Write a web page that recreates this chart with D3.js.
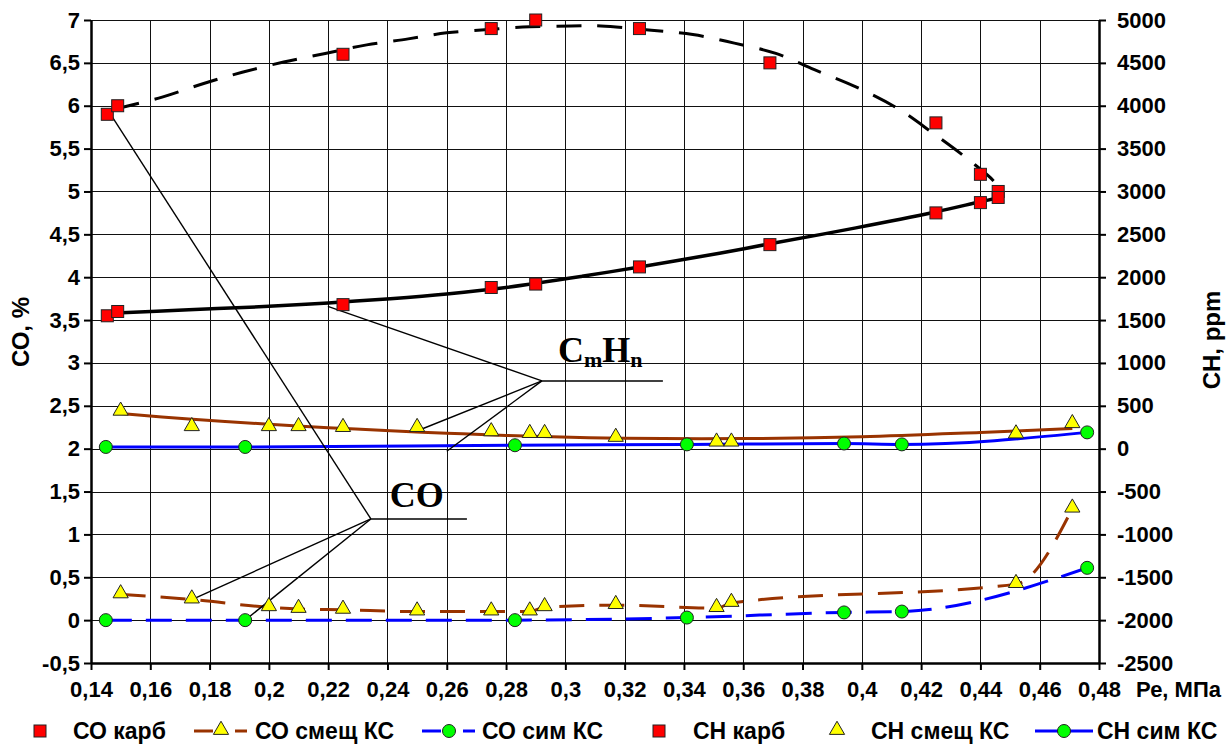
<!DOCTYPE html>
<html>
<head>
<meta charset="utf-8">
<script src="https://cdn.jsdelivr.net/npm/d3@7"></script>
<style>
  body { margin: 0; background: #fff; }
  text { font-family: "Liberation Sans", Arial, sans-serif; font-weight: bold; }
  .lbl { font-family: "Liberation Serif", "Times New Roman", serif; }
</style>
</head>
<body>
<div id="chart"></div>
<script>
// DATA
// carburettor engine: CO (left axis, %) and CH (right axis, ppm)
var karbX  = [0.1455, 0.149, 0.225, 0.275, 0.29, 0.325, 0.369, 0.425, 0.44, 0.446];
var coKarb = [5.9, 6.0, 6.6, 6.9, 7.0, 6.9, 6.5, 5.8, 5.2, 5.0];
var chKarb = [1550, 1600, 1680, 1880, 1920, 2120, 2380, 2750, 2870, 2930];

// mixed-formation chamber
var smeshX  = [0.15, 0.174, 0.2, 0.21, 0.225, 0.25, 0.275, 0.288, 0.293, 0.317, 0.351, 0.356, 0.452, 0.471];
var coSmesh = [0.30, 0.24, 0.15, 0.13, 0.12, 0.10, 0.10, 0.10, 0.15, 0.175, 0.14, 0.20, 0.42, 1.30];
var chSmesh = [430, 250, 250, 250, 240, 240, 190, 170, 170, 125, 70, 70, 165, 285];

// symmetric chamber
var simX  = [0.145, 0.192, 0.283, 0.341, 0.394, 0.4135, 0.476];
var coSim = [0.0, 0.0, 0.0, 0.03, 0.09, 0.10, 0.61];
var chSim = [20, 20, 40, 50, 60, 50, 190];

// trend curves as drawn on the picture
var coKarbTrendX = [0.148, 0.164, 0.178, 0.191, 0.205, 0.219, 0.233, 0.247, 0.26, 0.274, 0.288, 0.302, 0.312, 0.329, 0.343, 0.357, 0.371, 0.384, 0.398, 0.412, 0.424, 0.436, 0.445, 0.4466];
var coKarbTrend  = [5.96, 6.10, 6.26, 6.39, 6.51, 6.61, 6.71, 6.78, 6.85, 6.89, 6.92, 6.93, 6.93, 6.88, 6.83, 6.73, 6.61, 6.42, 6.22, 5.97, 5.68, 5.37, 5.10, 4.98];
var chKarbTrendX = [0.1464, 0.173, 0.2, 0.22, 0.241, 0.26, 0.28, 0.3056, 0.325, 0.352, 0.369, 0.398, 0.4247, 0.44, 0.4466];
var chKarbTrend  = [1580, 1620, 1660, 1700, 1750, 1805, 1880, 2010, 2120, 2280, 2390, 2575, 2760, 2880, 2930];
var chSmeshTrendX = [0.15, 0.173, 0.2, 0.22, 0.241, 0.26, 0.28, 0.308, 0.32, 0.36, 0.4, 0.44, 0.471];
var chSmeshTrend  = [410, 345, 285, 245, 210, 180, 155, 128, 122, 118, 140, 190, 235];

// axes
var xTicks  = [0.14, 0.16, 0.18, 0.2, 0.22, 0.24, 0.26, 0.28, 0.3, 0.32, 0.34, 0.36, 0.38, 0.4, 0.42, 0.44, 0.46, 0.48];
var coTicks = [-0.5, 0, 0.5, 1, 1.5, 2, 2.5, 3, 3.5, 4, 4.5, 5, 5.5, 6, 6.5, 7];
var chTicks = [-2500, -2000, -1500, -1000, -500, 0, 500, 1000, 1500, 2000, 2500, 3000, 3500, 4000, 4500, 5000];

var legendNames = ["СО карб", "СО смещ КС", "СО сим КС", "СН карб", "СН смещ КС", "СН сим КС"];

// SIZES
var W = 1232, H = 748;
var L = 91, R = 1099, T = 20, B = 663;

var x  = d3.scaleLinear().domain([0.14, 0.48]).range([L, R]);
var yL = d3.scaleLinear().domain([-0.5, 7]).range([B, T]);
var yR = d3.scaleLinear().domain([-2500, 5000]).range([B, T]);

var comma = function (d) { return String(d).replace(".", ","); };

var svg = d3.select("#chart").append("svg")
  .attr("width", W).attr("height", H);

// grid
svg.append("g").selectAll("line")
  .data(xTicks.slice(1, -1))
  .enter().append("line")
  .attr("x1", function (d) { return Math.round(x(d)) + 0.5; })
  .attr("x2", function (d) { return Math.round(x(d)) + 0.5; })
  .attr("y1", T).attr("y2", B)
  .attr("stroke", "#111").attr("stroke-width", 1);
svg.append("g").selectAll("line")
  .data(coTicks.slice(1))
  .enter().append("line")
  .attr("x1", L).attr("x2", R)
  .attr("y1", function (d) { return Math.round(yL(d)) + 0.5; })
  .attr("y2", function (d) { return Math.round(yL(d)) + 0.5; })
  .attr("stroke", "#111").attr("stroke-width", 1);

// axes
function styleAxis(g) {
  g.select(".domain").attr("stroke-width", 2.5);
  g.selectAll(".tick line").attr("stroke-width", 2);
  g.selectAll("text").attr("font-size", 22).attr("fill", "#000")
    .style("font-family", '"Liberation Sans", Arial, sans-serif').style("font-weight", "bold");
}
svg.append("g").attr("transform", "translate(" + L + ",0)")
  .call(d3.axisLeft(yL).tickValues(coTicks).tickSize(7).tickSizeOuter(0).tickPadding(4).tickFormat(comma))
  .call(styleAxis);
svg.append("g").attr("transform", "translate(" + R + ",0)")
  .call(d3.axisRight(yR).tickValues(chTicks).tickSize(7).tickSizeOuter(0).tickPadding(11).tickFormat(String))
  .call(styleAxis);
svg.append("g").attr("transform", "translate(0," + B + ")")
  .call(d3.axisBottom(x).tickValues(xTicks).tickSize(7).tickSizeOuter(0).tickPadding(11).tickFormat(comma))
  .call(styleAxis);

// axis titles
svg.append("text").attr("transform", "translate(29,332) rotate(-90)")
  .attr("text-anchor", "middle").attr("font-size", 24).text("СО, %");
svg.append("text").attr("transform", "translate(1220,340) rotate(-90)")
  .attr("text-anchor", "middle").attr("font-size", 24).text("СН, ppm");
svg.append("text").attr("x", 1136).attr("y", 697)
  .attr("font-size", 22).text("Ре, МПа");

// lines
function pts(xs, ys) { return xs.map(function (d, i) { return [d, ys[i]]; }); }
var lineL = d3.line().x(function (d) { return x(d[0]); }).y(function (d) { return yL(d[1]); });
var lineR = d3.line().x(function (d) { return x(d[0]); }).y(function (d) { return yR(d[1]); });

var gl = svg.append("g").attr("fill", "none");
gl.append("path").attr("d", lineL.curve(d3.curveCatmullRom)(pts(coKarbTrendX, coKarbTrend)))
  .attr("stroke", "#000").attr("stroke-width", 3).attr("stroke-dasharray", "25,16");
gl.append("path").attr("d", lineR.curve(d3.curveCatmullRom)(pts(chKarbTrendX, chKarbTrend)))
  .attr("stroke", "#000").attr("stroke-width", 3.5);
gl.append("path").attr("d", lineR.curve(d3.curveCatmullRom)(pts(chSmeshTrendX, chSmeshTrend)))
  .attr("stroke", "#993300").attr("stroke-width", 3);
gl.append("path").attr("d", lineL.curve(d3.curveMonotoneX)(pts(smeshX, coSmesh)))
  .attr("stroke", "#993300").attr("stroke-width", 3).attr("stroke-dasharray", "25,15");
gl.append("path").attr("d", lineL.curve(d3.curveMonotoneX)(pts(simX, coSim)))
  .attr("stroke", "#0000ff").attr("stroke-width", 3).attr("stroke-dasharray", "26,14");
gl.append("path").attr("d", lineR.curve(d3.curveMonotoneX)(pts(simX, chSim)))
  .attr("stroke", "#0000ff").attr("stroke-width", 3);

// callouts
var callouts = [
  { text: ["CO"], tx: 0.2408, ty: 1.317, vx: 0.2344, vy: 1.18, ux: 0.2668,
    to: [[0.147, 5.88], [0.174, 0.24], [0.192, 0.0]] },
  { text: ["C", "m", "H", "n"], tx: 0.2975, ty: 3.01, vx: 0.2921, vy: 2.79, ux: 0.3329,
    to: [[0.2199, 3.66], [0.2495, 2.2], [0.26, 1.97]] }
];
var gc = svg.append("g");
callouts.forEach(function (c) {
  c.to.forEach(function (p) {
    gc.append("line")
      .attr("x1", x(c.vx)).attr("y1", yL(c.vy))
      .attr("x2", x(p[0])).attr("y2", yL(p[1]))
      .attr("stroke", "#000").attr("stroke-width", 1.4);
  });
  gc.append("line")
    .attr("x1", x(c.vx)).attr("y1", yL(c.vy))
    .attr("x2", x(c.ux)).attr("y2", yL(c.vy))
    .attr("stroke", "#000").attr("stroke-width", 1.4);
  var t = gc.append("text").attr("class", "lbl")
    .attr("x", x(c.tx)).attr("y", yL(c.ty)).attr("font-size", 36);
  c.text.forEach(function (s, i) {
    var sub = i % 2 === 1;
    t.append("tspan").text(s)
      .attr("font-size", sub ? 22 : 36)
      .attr("dy", sub ? 5 : (i > 0 ? -5 : 0));
  });
});

// markers
function squares(g, xs, ys, sc) {
  g.selectAll(null).data(pts(xs, ys)).enter().append("rect")
    .attr("x", function (d) { return x(d[0]) - 6; })
    .attr("y", function (d) { return sc(d[1]) - 6; })
    .attr("width", 12).attr("height", 12)
    .attr("fill", "#ff0000").attr("stroke", "#222").attr("stroke-width", 1);
}
var tri = d3.symbol().type(d3.symbolTriangle).size(100);
function triangles(g, xs, ys, sc) {
  g.selectAll(null).data(pts(xs, ys)).enter().append("path")
    .attr("d", tri)
    .attr("transform", function (d) { return "translate(" + x(d[0]) + "," + (sc(d[1]) - 1) + ")"; })
    .attr("fill", "#ffff00").attr("stroke", "#222").attr("stroke-width", 1);
}
function circles(g, xs, ys, sc) {
  g.selectAll(null).data(pts(xs, ys)).enter().append("circle")
    .attr("cx", function (d) { return x(d[0]); })
    .attr("cy", function (d) { return sc(d[1]); })
    .attr("r", 6.5)
    .attr("fill", "#00ff00").attr("stroke", "#222").attr("stroke-width", 1);
}
var gm = svg.append("g");
squares(gm, karbX, coKarb, yL);
triangles(gm, smeshX, coSmesh, yL);
circles(gm, simX, coSim, yL);
squares(gm, karbX, chKarb, yR);
triangles(gm, smeshX, chSmesh, yR);
circles(gm, simX, chSim, yR);

// legend
var legX = [40, 221, 449, 659, 837, 1064];
var legTextX = [73, 255, 482, 693, 871, 1097];
var ly = 731;
var gleg = svg.append("g");
legendNames.forEach(function (name, i) {
  var cx = legX[i];
  var kind = i % 3;
  var hasLine = (i === 1 || i === 2 || i === 5);
  if (hasLine) {
    var col = i === 1 ? "#993300" : "#0000ff";
    if (i !== 5) {
      gleg.append("line").attr("x1", cx - 27).attr("x2", cx - 8).attr("y1", ly).attr("y2", ly)
        .attr("stroke", col).attr("stroke-width", 3);
      gleg.append("line").attr("x1", cx + 14).attr("x2", cx + 26).attr("y1", ly).attr("y2", ly)
        .attr("stroke", col).attr("stroke-width", 3);
    } else {
      gleg.append("line").attr("x1", cx - 29).attr("x2", cx + 29).attr("y1", ly).attr("y2", ly)
        .attr("stroke", col).attr("stroke-width", 3);
    }
  }
  if (kind === 0) {
    gleg.append("rect").attr("x", cx - 6).attr("y", ly - 6).attr("width", 12).attr("height", 12)
      .attr("fill", "#ff0000").attr("stroke", "#222");
  } else if (kind === 1) {
    gleg.append("path").attr("d", tri).attr("transform", "translate(" + cx + "," + (ly - 1) + ")")
      .attr("fill", "#ffff00").attr("stroke", "#222");
  } else {
    gleg.append("circle").attr("cx", cx).attr("cy", ly).attr("r", 6.5)
      .attr("fill", "#00ff00").attr("stroke", "#222");
  }
  gleg.append("text").attr("x", legTextX[i]).attr("y", ly + 8).attr("font-size", 23).text(name);
});
</script>
</body>
</html>
